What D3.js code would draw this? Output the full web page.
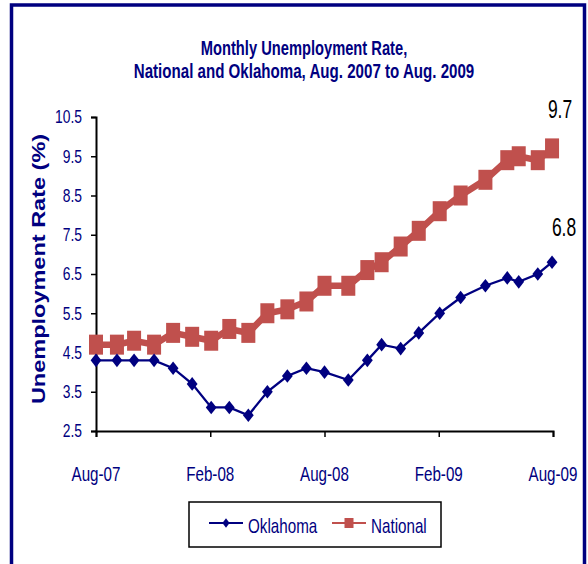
<!DOCTYPE html>
<html>
<head>
<meta charset="utf-8">
<script src="https://cdn.jsdelivr.net/npm/d3@7"></script>
<style>
  body { margin: 0; background: #fff; }
  text { font-family: "Liberation Sans", Arial, sans-serif; }
</style>
</head>
<body>
<div id="chart"></div>
<script>
// months since Aug-07, as plotted
const xValues = [0, 1.1, 2, 3.05, 4.05, 5.05, 6.05, 7, 8, 9, 10.05, 11.05, 12,
  13.25, 14.25, 15, 16, 16.95, 18.05, 19.15, 20.45, 21.6, 22.2, 23.2, 23.95];
const oklahoma = [4.3, 4.3, 4.3, 4.3, 4.1, 3.7, 3.1, 3.1, 2.9, 3.5, 3.9, 4.1, 4.0,
  3.8, 4.3, 4.7, 4.6, 5.0, 5.5, 5.9, 6.2, 6.4, 6.3, 6.5, 6.8];
const national = [4.7, 4.7, 4.8, 4.7, 5.0, 4.9, 4.8, 5.1, 5.0, 5.5, 5.6, 5.8, 6.2,
  6.2, 6.6, 6.8, 7.2, 7.6, 8.1, 8.5, 8.9, 9.4, 9.5, 9.4, 9.7];
const xTickValues = [0, 6, 12, 18, 24];
const xTickLabels = ["Aug-07", "Feb-08", "Aug-08", "Feb-09", "Aug-09"];
const yTickValues = [2.5, 3.5, 4.5, 5.5, 6.5, 7.5, 8.5, 9.5, 10.5];
const titleLines = ["Monthly Unemployment Rate,", "National and Oklahoma, Aug. 2007 to Aug. 2009"];

const width = 588;
const height = 564;
const navy = "#000080";
const red = "#C0504D";
const sx = 0.77; // the picture is squeezed horizontally

const svg = d3.select("#chart").append("svg")
  .attr("width", width)
  .attr("height", height);

// outer frame
svg.append("rect")
  .attr("x", 11.5).attr("y", 5)
  .attr("width", 573).attr("height", 620)
  .attr("fill", "#fff")
  .attr("stroke", navy)
  .attr("stroke-width", 3.5);

const x = d3.scaleLinear().domain([0, 24]).range([96, 553]);
const y = d3.scaleLinear().domain([2.5, 10.5]).range([431, 117]);

function squeezed(sel, px, py, k) {
  return sel.attr("transform", `translate(${px},${py}) scale(${k},1)`);
}

// title
titleLines.forEach((t, i) => {
  squeezed(svg.append("text"), 304, 55 + i * 23, i === 0 ? 0.70 : 0.72)
    .attr("text-anchor", "middle")
    .attr("font-size", 21)
    .attr("font-weight", "bold")
    .attr("fill", navy)
    .text(t);
});

// y axis
const yAxis = svg.append("g")
  .attr("transform", "translate(96,0)")
  .call(d3.axisLeft(y).tickValues(yTickValues).tickSize(5).tickFormat(""));
yAxis.select(".domain").attr("stroke", "#000").attr("stroke-width", 2);
yAxis.selectAll(".tick line").attr("stroke", "#000").attr("stroke-width", 1.5);

yTickValues.forEach(v => {
  squeezed(svg.append("text"), 82, y(v), sx)
    .attr("text-anchor", "end")
    .attr("dy", "0.36em")
    .attr("font-size", 18)
    .attr("fill", navy)
    .text(d3.format(".1f")(v));
});

svg.append("text")
  .attr("transform", `translate(45,269) scale(${sx},1) rotate(-90)`)
  .attr("text-anchor", "middle")
  .attr("font-size", 23.5)
  .attr("font-weight", "bold")
  .attr("fill", navy)
  .text("Unemployment Rate (%)");

// x axis
const xAxis = svg.append("g")
  .attr("transform", "translate(0,431)")
  .call(d3.axisBottom(x).tickValues(xTickValues).tickSize(6).tickFormat(""));
xAxis.select(".domain").attr("stroke", "#000").attr("stroke-width", 2);
xAxis.selectAll(".tick line").attr("stroke", "#000").attr("stroke-width", 1.5);

xTickValues.forEach((v, i) => {
  squeezed(svg.append("text"), x(v), 481, 0.76)
    .attr("text-anchor", "middle")
    .attr("font-size", 20)
    .attr("fill", navy)
    .text(xTickLabels[i]);
});

// series
const nationalPts = xValues.map((d, i) => [d, national[i]]);
const oklahomaPts = xValues.map((d, i) => [d, oklahoma[i]]);
const line = d3.line().x(d => x(d[0])).y(d => y(d[1]));

svg.append("path")
  .datum(nationalPts)
  .attr("fill", "none")
  .attr("stroke", red)
  .attr("stroke-width", 6.5)
  .attr("d", line);

svg.selectAll(".sq")
  .data(nationalPts)
  .enter()
  .append("rect")
  .attr("class", "sq")
  .attr("x", d => x(d[0]) - 7)
  .attr("y", d => y(d[1]) - 10)
  .attr("width", 14)
  .attr("height", 20)
  .attr("fill", red);

svg.append("path")
  .datum(oklahomaPts)
  .attr("fill", "none")
  .attr("stroke", navy)
  .attr("stroke-width", 2.3)
  .attr("d", line);

const diamond = (w, h) => `M0,${-h}L${w},0L0,${h}L${-w},0Z`;

svg.selectAll(".dm")
  .data(oklahomaPts)
  .enter()
  .append("path")
  .attr("class", "dm")
  .attr("transform", d => `translate(${x(d[0])},${y(d[1])})`)
  .attr("d", diamond(5.4, 6.8))
  .attr("fill", navy);

// end labels
const last = xValues.length - 1;
squeezed(svg.append("text"), x(xValues[last]) + 8, y(national[last]) - 30, 0.7)
  .attr("text-anchor", "middle")
  .attr("font-size", 25)
  .attr("fill", "#000")
  .text(national[last].toFixed(1));
squeezed(svg.append("text"), x(xValues[last]) + 12, y(oklahoma[last]) - 26, 0.7)
  .attr("text-anchor", "middle")
  .attr("font-size", 25)
  .attr("fill", "#000")
  .text(oklahoma[last].toFixed(1));

// legend
const legend = svg.append("g").attr("transform", "translate(189,502)");
legend.append("rect")
  .attr("width", 252)
  .attr("height", 45)
  .attr("fill", "#fff")
  .attr("stroke", "#000")
  .attr("stroke-width", 1.5);

legend.append("line")
  .attr("x1", 20).attr("x2", 54).attr("y1", 21).attr("y2", 21)
  .attr("stroke", navy).attr("stroke-width", 2);
legend.append("path")
  .attr("transform", "translate(37,21)")
  .attr("d", diamond(3.6, 4.8))
  .attr("fill", navy);
squeezed(legend.append("text"), 59, 31, 0.76)
  .attr("font-size", 20)
  .attr("fill", navy)
  .text("Oklahoma");

legend.append("line")
  .attr("x1", 143).attr("x2", 177).attr("y1", 21).attr("y2", 21)
  .attr("stroke", red).attr("stroke-width", 2);
legend.append("rect")
  .attr("x", 155.5).attr("y", 16)
  .attr("width", 9).attr("height", 10)
  .attr("fill", red);
squeezed(legend.append("text"), 182, 31, 0.76)
  .attr("font-size", 20)
  .attr("fill", navy)
  .text("National");
</script>
</body>
</html>
